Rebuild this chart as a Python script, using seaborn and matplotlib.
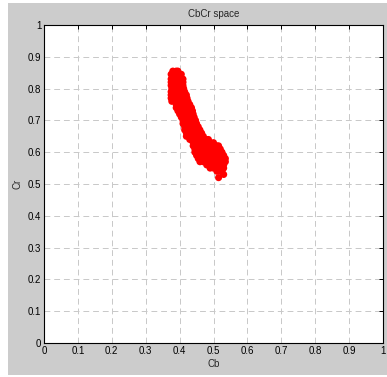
import matplotlib
matplotlib.use('Agg')
import matplotlib.pyplot as plt
import seaborn as sns
import numpy as np
from matplotlib.patches import Rectangle

# Cr levels and the Cb values read across each level of the red cloud
cr_levels = [0.855, 0.845, 0.83, 0.82, 0.81, 0.80, 0.79, 0.78, 0.77, 0.76,
             0.75, 0.74, 0.73, 0.72, 0.71, 0.70, 0.69, 0.68, 0.67, 0.66,
             0.65, 0.64, 0.63, 0.62, 0.61, 0.60, 0.59, 0.58, 0.57, 0.56,
             0.55, 0.54]
cb_rows = [
    [0.38, 0.39, 0.395],
    [0.375, 0.385, 0.395, 0.405],
    [0.375, 0.385, 0.395, 0.405, 0.41],
    [0.375, 0.385, 0.395, 0.405, 0.41],
    [0.375, 0.385, 0.395, 0.405, 0.41],
    [0.377, 0.387, 0.397, 0.407, 0.412],
    [0.375, 0.385, 0.395, 0.405, 0.415],
    [0.375, 0.385, 0.395, 0.405, 0.415, 0.42],
    [0.375, 0.385, 0.395, 0.405, 0.415, 0.422],
    [0.377, 0.387, 0.397, 0.407, 0.417, 0.425],
    [0.39, 0.40, 0.41, 0.42, 0.43],
    [0.39, 0.40, 0.41, 0.42, 0.43, 0.435],
    [0.395, 0.405, 0.415, 0.425, 0.435, 0.438],
    [0.40, 0.41, 0.42, 0.43, 0.44],
    [0.405, 0.415, 0.425, 0.435, 0.443],
    [0.41, 0.42, 0.43, 0.44, 0.447],
    [0.41, 0.42, 0.43, 0.44, 0.45],
    [0.415, 0.425, 0.435, 0.445, 0.455],
    [0.415, 0.425, 0.435, 0.445, 0.455, 0.46],
    [0.42, 0.43, 0.44, 0.45, 0.46, 0.465],
    [0.42, 0.43, 0.44, 0.45, 0.46, 0.47],
    [0.43, 0.44, 0.45, 0.46, 0.47, 0.48, 0.485],
    [0.44, 0.45, 0.46, 0.47, 0.48, 0.49, 0.50],
    [0.44, 0.45, 0.46, 0.47, 0.48, 0.49, 0.50, 0.51, 0.515],
    [0.445, 0.455, 0.465, 0.475, 0.485, 0.495, 0.505, 0.515, 0.52],
    [0.445, 0.455, 0.465, 0.475, 0.485, 0.495, 0.505, 0.515, 0.525],
    [0.45, 0.46, 0.47, 0.48, 0.49, 0.50, 0.51, 0.52, 0.53],
    [0.455, 0.465, 0.475, 0.485, 0.495, 0.505, 0.515, 0.525, 0.535],
    [0.46, 0.47, 0.48, 0.49, 0.50, 0.51, 0.52, 0.53, 0.535],
    [0.48, 0.49, 0.50, 0.51, 0.52, 0.53],
    [0.49, 0.50, 0.51, 0.52, 0.53],
    [0.51, 0.52, 0.525],
]
# a few stray points below the cloud
stray_cb = [0.515, 0.53]
stray_cr = [0.52, 0.53]

ticks = [0, 0.1, 0.2, 0.3, 0.4, 0.5, 0.6, 0.7, 0.8, 0.9, 1]
tick_labels = ['0', '0.1', '0.2', '0.3', '0.4', '0.5', '0.6', '0.7', '0.8', '0.9', '1']

cb = [x for row in cb_rows for x in row] + stray_cb
cr = [y for y, row in zip(cr_levels, cb_rows) for _ in row] + stray_cr

sns.set_style('white')
plt.rcParams['font.family'] = ['Liberation Sans', 'DejaVu Sans']

fig = plt.figure(figsize=(3.87, 3.77), dpi=100)
fig.patch.set_facecolor('white')
# grey MATLAB-like figure background
fig.patches.append(Rectangle((8 / 387, 2 / 377), 379 / 387, 372 / 377,
                             transform=fig.transFigure, facecolor='#cccccc',
                             edgecolor='none', zorder=-10))

ax = fig.add_axes([44 / 387, 34 / 377, 339 / 387, 318 / 377])
ax.set_facecolor('white')

sns.scatterplot(x=cb, y=cr, color='#ff0000', s=26, edgecolor='none',
                linewidth=0, ax=ax, zorder=3)

ax.set_xlim(0, 1)
ax.set_ylim(0, 1)
ax.set_xticks(ticks)
ax.set_yticks(ticks)
ax.set_xticklabels(tick_labels)
ax.set_yticklabels(tick_labels)
ax.grid(True, color='#c8c8c8', linestyle=(0, (6, 4)), linewidth=0.7)
ax.set_axisbelow(True)

ax.tick_params(direction='in', length=3, width=0.7, colors='black',
               top=True, right=True, labelsize=7, pad=2)
for s in ax.spines.values():
    s.set_color('black')
    s.set_linewidth(0.8)

ax.set_title('CbCr space', fontsize=7, pad=6)
ax.set_xlabel('Cb', fontsize=7, labelpad=2)
ax.set_ylabel('Cr', fontsize=7, labelpad=4)

fig.savefig('out.png', dpi=100, facecolor=fig.get_facecolor())
